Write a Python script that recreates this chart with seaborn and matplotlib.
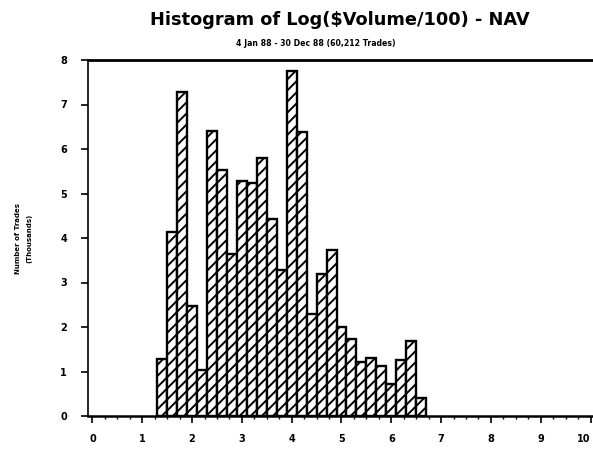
import numpy as np
import pandas as pd
import matplotlib
matplotlib.use("Agg")
import matplotlib.pyplot as plt
import seaborn as sns
from matplotlib.ticker import MultipleLocator

# Data: bin centres of log($Volume/100) and number of trades (thousands)
bin_centers = [1.4, 1.6, 1.8, 2.0, 2.2, 2.4, 2.6, 2.8, 3.0, 3.2, 3.4, 3.6, 3.8, 4.0,
               4.2, 4.4, 4.6, 4.8, 5.0, 5.2, 5.4, 5.6, 5.8, 6.0, 6.2, 6.4, 6.6]
trades_k = [1.28, 4.13, 7.28, 2.48, 1.04, 6.40, 5.53, 3.63, 5.28, 5.24, 5.80, 4.43, 3.28, 7.75,
            6.38, 2.29, 3.18, 3.74, 1.99, 1.73, 1.22, 1.30, 1.12, 0.71, 1.26, 1.69, 0.40]
x_ticks = [0, 1, 2, 3, 4, 5, 6, 7, 8, 9, 10]
y_ticks = [0, 1, 2, 3, 4, 5, 6, 7, 8]

df = pd.DataFrame({"logvol": bin_centers, "count": trades_k})

sns.set_style("white")
plt.rcParams["font.family"] = ["DejaVu Sans"]
plt.rcParams["hatch.linewidth"] = 1.4
plt.rcParams["text.color"] = "black"
plt.rcParams["xtick.color"] = "black"
plt.rcParams["ytick.color"] = "black"

fig = plt.figure(figsize=(5.93, 4.57), dpi=100)
ax = fig.add_axes([88 / 593, 1 - 416 / 457, 1 - 88 / 593, (416 - 60) / 457])

sns.histplot(data=df, x="logvol", weights="count", binwidth=0.2, binrange=(1.3, 6.7),
             ax=ax, color="white", edgecolor="black", linewidth=1.7, alpha=1)
for p in ax.patches:
    p.set_hatch("///")
    p.set_facecolor("white")

ax.set_xlim(-0.09, 10.05)
ax.set_ylim(0, 8)
ax.set_xticks(x_ticks)
ax.set_yticks(y_ticks)
ax.xaxis.set_minor_locator(MultipleLocator(0.25))
ax.set_xticklabels([str(t) for t in x_ticks], fontsize=7, fontweight="heavy")
ax.set_yticklabels([str(t) for t in y_ticks], fontsize=7, fontweight="heavy")
ax.get_xticklabels()[-1].set_horizontalalignment("right")
ax.tick_params(axis="x", which="major", direction="out", length=5, width=1.2, pad=8, bottom=True)
ax.tick_params(axis="x", which="minor", direction="out", length=2.5, width=1, bottom=True)
ax.tick_params(axis="y", which="major", direction="out", length=5, width=1.2, pad=10, left=True)
ax.set_xlabel("")
ax.set_ylabel("")

for side in ["left", "bottom", "top"]:
    ax.spines[side].set_visible(True)
    ax.spines[side].set_color("black")
ax.spines["left"].set_linewidth(1.2)
ax.spines["bottom"].set_linewidth(1.8)
ax.spines["top"].set_linewidth(2.0)
ax.spines["right"].set_visible(False)

fig.text(340 / 593, 1 - 20 / 457, "Histogram of Log($Volume/100) - NAV",
         ha="center", va="center", fontsize=12.8, fontweight="heavy")
fig.text(316 / 593, 1 - 43 / 457, "4 Jan 88 - 30 Dec 88 (60,212 Trades)",
         ha="center", va="center", fontsize=5.6, fontweight="heavy")
fig.text(18 / 593, 1 - 238 / 457, "Number of Trades", rotation=90,
         ha="center", va="center", fontsize=5, fontweight="heavy")
fig.text(29 / 593, 1 - 238 / 457, "(Thousands)", rotation=90,
         ha="center", va="center", fontsize=5, fontweight="heavy")

fig.savefig("out.png", dpi=100, facecolor="white")
